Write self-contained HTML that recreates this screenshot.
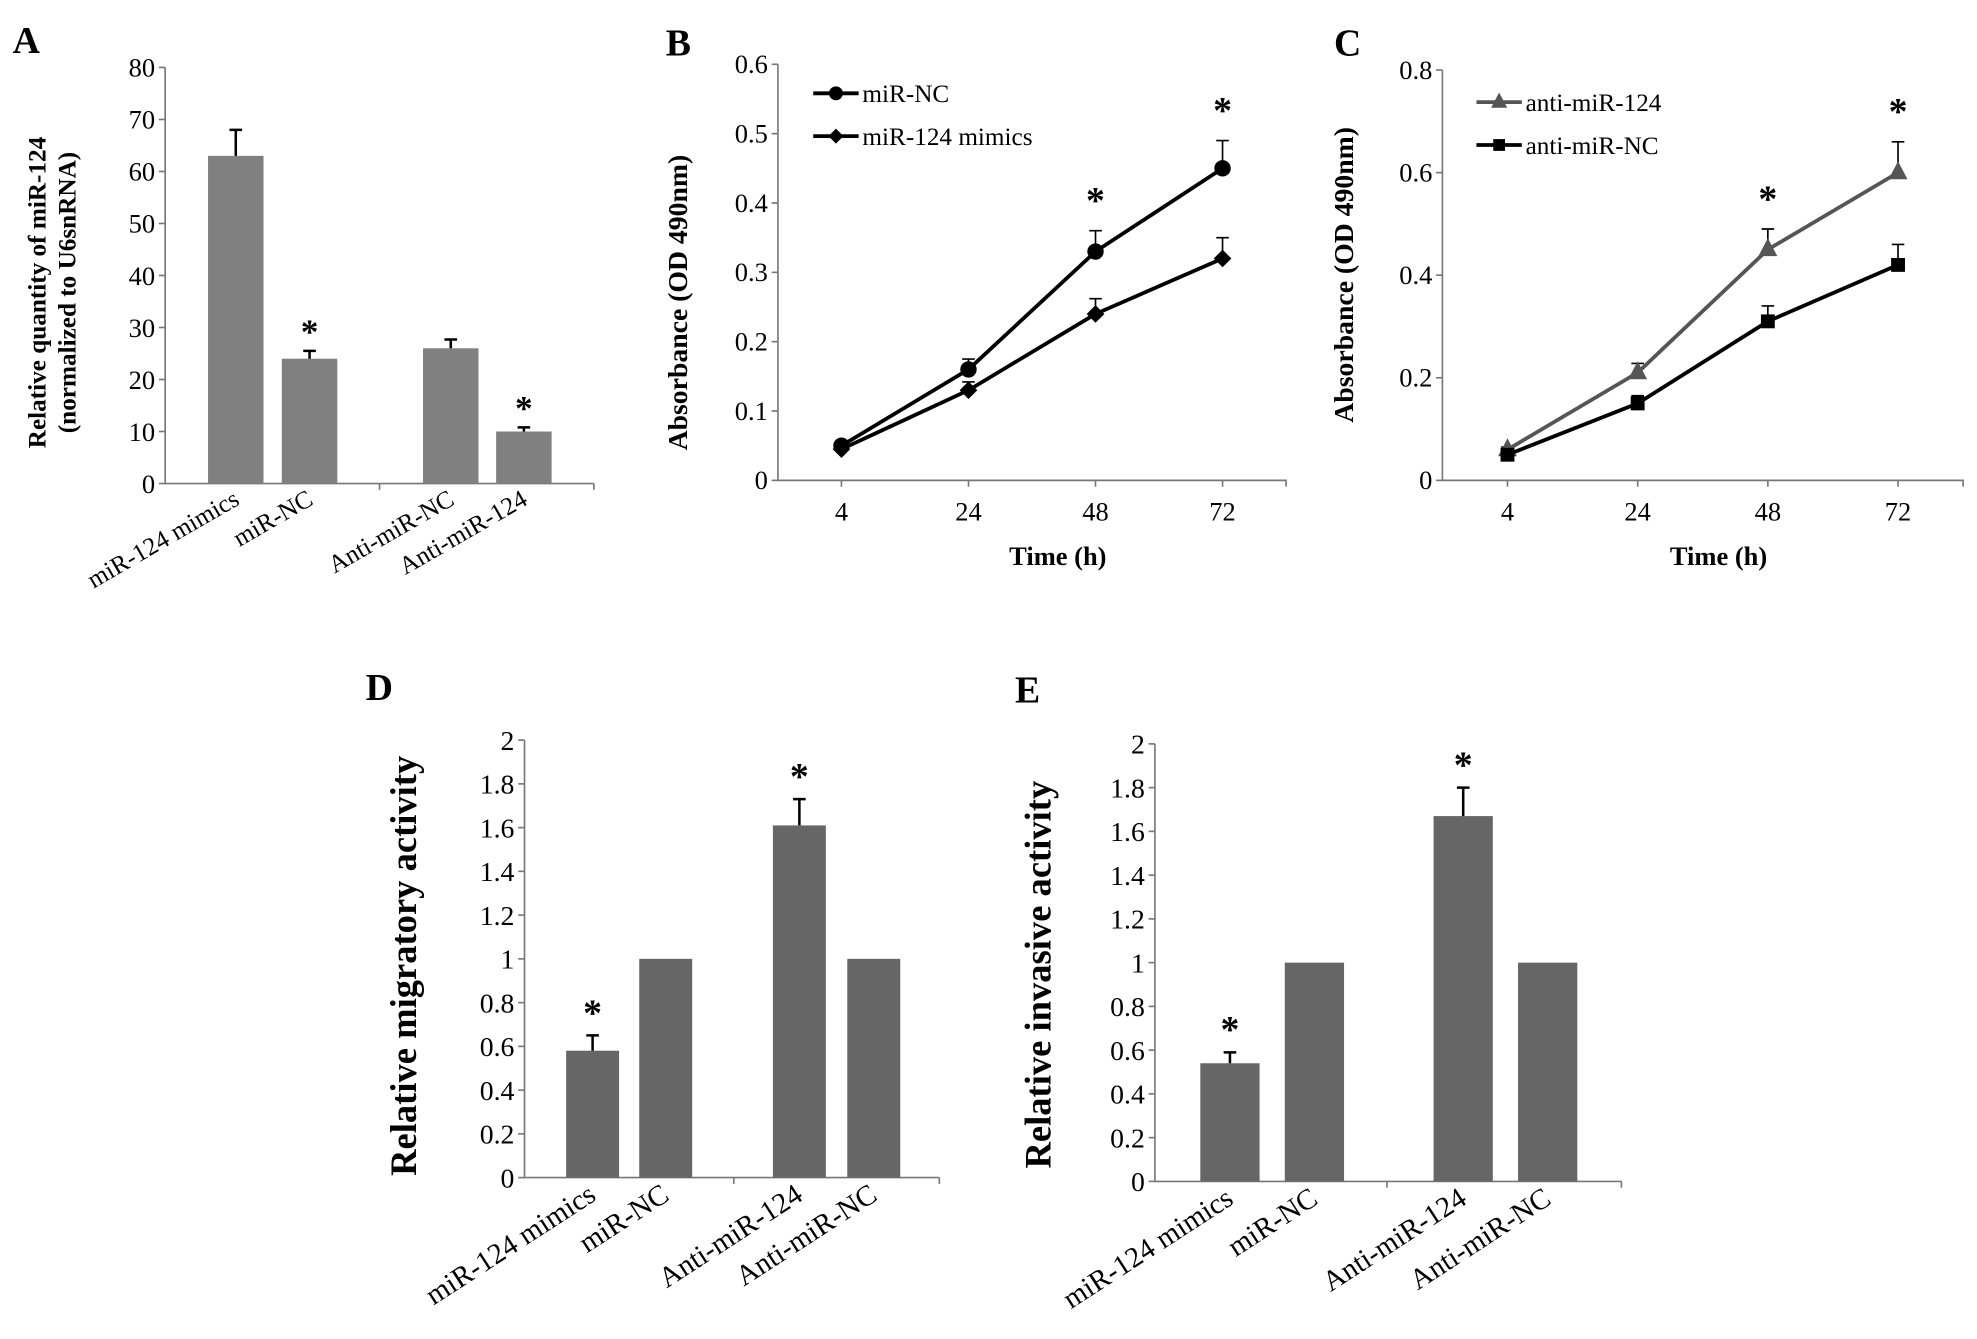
<!DOCTYPE html>
<html><head><meta charset="utf-8"><style>
html,body{margin:0;padding:0;background:#fff}
svg{display:block}
text{font-family:"Liberation Serif",serif;fill:#000}
</style></head><body>
<svg id="fig" width="1977" height="1339" viewBox="0 0 1568 1062" xmlns="http://www.w3.org/2000/svg"></svg>
<script>
// Panel A
const aCats = ["miR-124 mimics","miR-NC","Anti-miR-NC","Anti-miR-124"];
const aVals = [63,24,26,10];
const aErr = [68,25.5,27.7,10.8];
const aStar = [false,true,false,true];
const aTicks = [0,10,20,30,40,50,60,70,80];
// Panel B
const timeCats = ["4","24","48","72"];
const bNC = [0.05,0.16,0.33,0.45];
const bNCErr = [0.055,0.175,0.36,0.49];
const bMim = [0.045,0.13,0.24,0.32];
const bMimErr = [0.05,0.142,0.262,0.35];
const bTicks = [0,0.1,0.2,0.3,0.4,0.5,0.6];
const bStars = [false,false,true,true];
// Panel C
const cAnti = [0.06,0.21,0.45,0.6];
const cAntiErr = [0.065,0.228,0.49,0.66];
const cNC = [0.05,0.15,0.31,0.42];
const cNCErr = [0.055,0.165,0.34,0.46];
const cTicks = [0,0.2,0.4,0.6,0.8];
const cStars = [false,false,true,true];
// Panels D,E
const deCats = ["miR-124 mimics","miR-NC","Anti-miR-124","Anti-miR-NC"];
const dVals = [0.58,1,1.61,1];
const dErr = [0.65,1,1.73,1];
const eVals = [0.54,1,1.67,1];
const eErr = [0.59,1,1.80,1];
const deStar = [true,false,true,false];
const deTicks = [0,0.2,0.4,0.6,0.8,1,1.2,1.4,1.6,1.8,2];

const NS="http://www.w3.org/2000/svg";
const svg=document.getElementById('fig');
function mk(tag,attrs,parent){const e=document.createElementNS(NS,tag);for(const k in attrs)e.setAttribute(k,attrs[k]);(parent||svg).appendChild(e);return e;}
function txt(s,attrs,parent){const t=mk('text',attrs,parent);t.textContent=s;return t;}
function fmt(v){return String(v);}

function barPanel(o){
  const g=mk('g',{});
  
  
  const y=v=>o.y0-(v-o.min)/(o.max-o.min)*(o.y0-o.yTop);
  const ax=mk('path',{d:`M${o.x0} ${o.yTop}V${o.y0}H${o.x1}`,stroke:'#777','stroke-width':1.3,fill:'none'},g);
  
  
  mk('line',{x1:o.mid,x2:o.mid,y1:o.y0,y2:o.y0+5,stroke:'#777','stroke-width':1.3},g);
  mk('line',{x1:o.x1,x2:o.x1,y1:o.y0,y2:o.y0+5,stroke:'#777','stroke-width':1.3},g);
  o.ticks.forEach(t=>{
    mk('line',{x1:o.x0-5,x2:o.x0,y1:y(t),y2:y(t),stroke:'#777','stroke-width':1.3},g);
    const l=txt(fmt(t),{x:o.x0-8,y:y(t)+o.tf*0.35,'text-anchor':'end','font-size':o.tf},g);
    
    
  });
  o.vals.forEach((v,i)=>{
    const c=o.centers[i];
    const b=mk('rect',{x:c-o.bw/2,y:y(v),width:o.bw,height:o.y0-y(v),fill:o.color},g);
    
    
    if(o.err[i]>v){
      mk('path',{d:`M${c} ${y(v)}V${y(o.err[i])}M${c-5} ${y(o.err[i])}H${c+5}`,stroke:'#000','stroke-width':2,fill:'none'},g);
    }
    if(o.star[i]){
      const s=txt('*',{x:c,y:y(o.err[i])-o.starGap,'text-anchor':'middle','font-size':o.starF,'font-weight':'bold'},g);
      
      
    }
    const cl=txt(o.cats[i],{x:0,y:0,'text-anchor':'end','font-size':o.cf,transform:`translate(${c+o.cdx},${o.y0+o.cdy}) rotate(${o.rot})`},g);
    
    
  });
  const tl=txt(o.title[0],{x:0,y:0,'text-anchor':'middle','font-size':o.titleF,'font-weight':'bold',transform:`translate(${o.titleX},${o.titleY}) rotate(-90)`},g);
  
  
  if(o.title[1]){
    const t2=txt(o.title[1],{x:0,y:0,'text-anchor':'middle','font-size':o.titleF,'font-weight':'bold',transform:`translate(${o.titleX+24},${o.titleY}) rotate(-90)`},g);
    
    
  }
  const pl=txt(o.letter,{x:o.lx,y:o.ly,'font-size':30,'font-weight':'bold'},g);
  
  
}

barPanel({name:'panel-a-chart',x0:131,x1:471,mid:301,y0:383.5,yTop:53.5,min:0,max:80,ticks:aTicks,tf:21,
  vals:aVals,err:aErr,star:aStar,cats:aCats,centers:[187,245.5,357.5,415.5],bw:44,color:'#808080',
  starGap:6,starF:28,cf:20,cdx:4,cdy:16,rot:-30,title:['Relative quantity of  miR-124','(normalized to U6snRNA)'],
  titleX:36,titleY:232,titleF:20,letter:'A',lx:10,ly:42});
barPanel({name:'panel-d-chart',x0:416,x1:745,mid:582,y0:934,yTop:587,min:0,max:2,ticks:deTicks,tf:22,
  vals:dVals,err:dErr,star:deStar,cats:deCats,centers:[470,528,634,693],bw:42,color:'#666',
  starGap:8,starF:30,cf:23,cdx:4,cdy:17,rot:-33,title:['Relative migratory  activity'],
  titleX:330,titleY:766,titleF:29,letter:'D',lx:290,ly:555});
barPanel({name:'panel-e-chart',x0:916,x1:1286,mid:1100,y0:937,yTop:590,min:0,max:2,ticks:deTicks,tf:22,
  vals:eVals,err:eErr,star:deStar,cats:deCats,centers:[975.5,1042.5,1160.5,1227.5],bw:47,color:'#666',
  starGap:8,starF:30,cf:23,cdx:4,cdy:17,rot:-33,title:['Relative invasive  activity'],
  titleX:833,titleY:773,titleF:29,letter:'E',lx:805,ly:557});

function linePanel(o){
  const g=mk('g',{});
  
  
  const y=v=>o.y0-(v-o.min)/(o.max-o.min)*(o.y0-o.yTop);
  const cw=(o.x1-o.x0)/o.cats.length;
  const x=i=>o.x0+cw*(i+0.5);
  mk('path',{d:`M${o.x0} ${o.yTop}V${o.y0}H${o.x1}V${o.y0+5}`,stroke:'#777','stroke-width':1.3,fill:'none'},g);
  o.ticks.forEach(t=>{
    mk('line',{x1:o.x0-5,x2:o.x0,y1:y(t),y2:y(t),stroke:'#777','stroke-width':1.3},g);
    const l=txt(fmt(t),{x:o.x0-8,y:y(t)+7,'text-anchor':'end','font-size':21},g);
    
    
  });
  o.cats.forEach((c,i)=>{
    mk('line',{x1:x(i),x2:x(i),y1:o.y0,y2:o.y0+5,stroke:'#777','stroke-width':1.3},g);
    const l=txt(c,{x:x(i),y:o.y0+32,'text-anchor':'middle','font-size':21},g);
    
    
  });
  o.series.forEach(s=>{
    const sg=mk('g',{},g);
    
    
    s.vals.forEach((v,i)=>mk('path',{d:`M${x(i)} ${y(v)}V${y(s.err[i])}M${x(i)-5} ${y(s.err[i])}H${x(i)+5}`,stroke:'#000','stroke-width':1.3,fill:'none'},sg));
    mk('polyline',{points:s.vals.map((v,i)=>x(i)+','+y(v)).join(' '),stroke:s.color,'stroke-width':3,fill:'none'},sg);
    s.vals.forEach((v,i)=>marker(s.marker,x(i),y(v),s.color,sg,s.size));
  });
  o.stars.forEach((st,i)=>{ if(st){
    const s=txt('*',{x:x(i),y:y(o.series[0].err[i])-o.starGap,'text-anchor':'middle','font-size':30,'font-weight':'bold'},g);
    
    
  }});
  o.series.forEach((s,k)=>{
    const ly=o.legY[k];
    const lg=mk('g',{},g);
    
    
    mk('line',{x1:o.legX,x2:o.legX+36,y1:ly,y2:ly,stroke:s.color,'stroke-width':3},lg);
    marker(s.marker,o.legX+18,ly,s.color,lg,s.size*0.85);
    txt(s.label,{x:o.legX+39,y:ly+7,'font-size':20},lg);
  });
  const tt=txt('Time (h)',{x:o.timeX,y:o.y0+67,'text-anchor':'middle','font-size':21,'font-weight':'bold'},g);
  
  
  const yt=txt('Absorbance  (OD 490nm)',{x:0,y:0,'text-anchor':'middle','font-size':22,'font-weight':'bold',transform:`translate(${o.titleX},${o.titleY}) rotate(-90)`},g);
  
  
  const pl=txt(o.letter,{x:o.lx,y:o.ly,'font-size':30,'font-weight':'bold'},g);
  
  
}
function marker(t,cx,cy,col,p,r){
  if(t==='circle') mk('circle',{cx:cx,cy:cy,r:r,fill:col},p);
  else if(t==='diamond') mk('path',{d:`M${cx} ${cy-r}L${cx+r} ${cy}L${cx} ${cy+r}L${cx-r} ${cy}Z`,fill:col},p);
  else if(t==='square') mk('rect',{x:cx-r,y:cy-r,width:2*r,height:2*r,fill:col},p);
  else if(t==='triangle') mk('path',{d:`M${cx} ${cy-r*1.2}L${cx+r} ${cy+r*0.7}L${cx-r} ${cy+r*0.7}Z`,fill:col},p);
}
linePanel({name:'panel-b-chart',x0:617,x1:1020,y0:381,yTop:51,min:0,max:0.6,ticks:bTicks,cats:timeCats,
  series:[{name:'series-mir-nc',label:'miR-NC',vals:bNC,err:bNCErr,color:'#000',marker:'circle',size:6.5},
          {name:'series-mir-124-mimics',label:'miR-124 mimics',vals:bMim,err:bMimErr,color:'#000',marker:'diamond',size:7}],
  stars:bStars,starGap:14,legX:645,legY:[74,108],timeX:839,titleX:545,titleY:240,letter:'B',lx:528,ly:44});
linePanel({name:'panel-c-chart',x0:1144,x1:1557,y0:381,yTop:55.5,min:0,max:0.8,ticks:cTicks,cats:timeCats,
  series:[{name:'series-anti-mir-124',label:'anti-miR-124',vals:cAnti,err:cAntiErr,color:'#555',marker:'triangle',size:7.5},
          {name:'series-anti-mir-nc',label:'anti-miR-NC',vals:cNC,err:cNCErr,color:'#000',marker:'square',size:5.5}],
  stars:cStars,starGap:14,legX:1171,legY:[81,115],timeX:1363,titleX:1073,titleY:218,letter:'C',lx:1058,ly:44});
</script>
</body></html>
